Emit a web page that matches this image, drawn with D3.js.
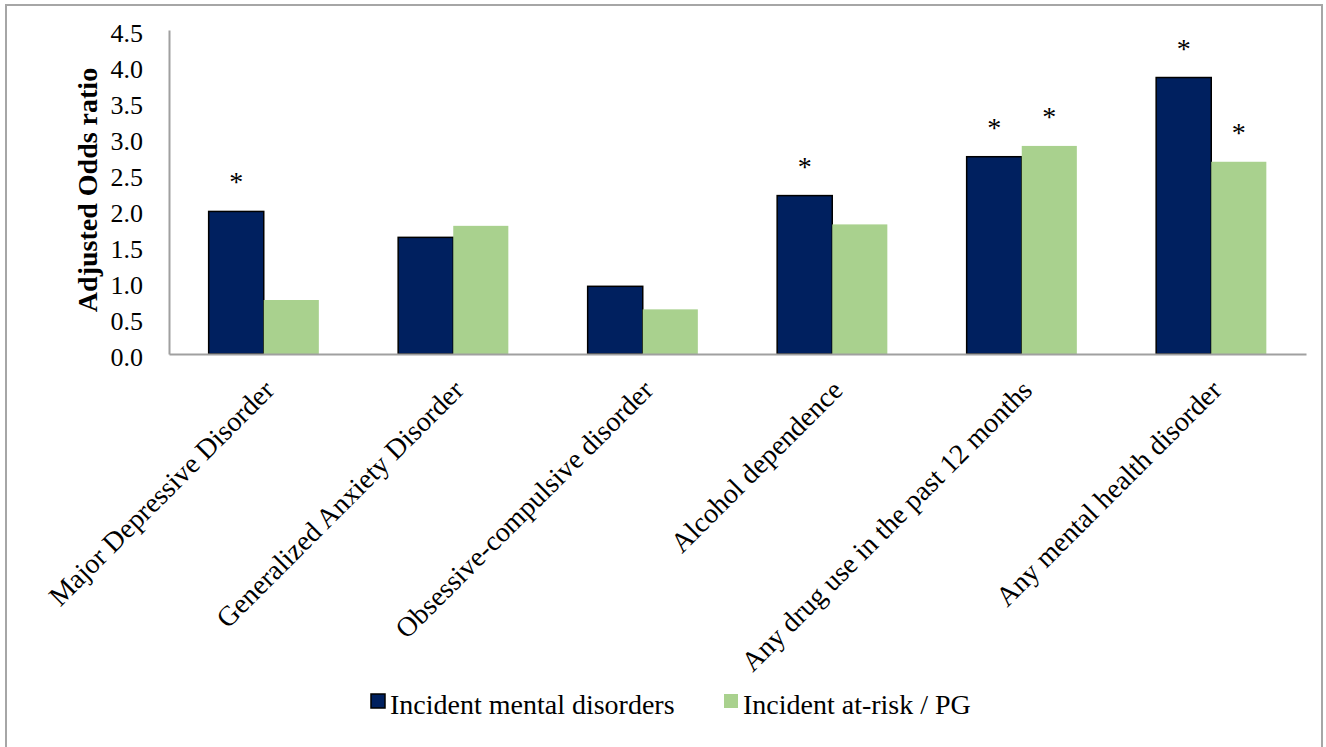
<!DOCTYPE html>
<html>
<head>
<meta charset="utf-8">
<script src="https://cdn.jsdelivr.net/npm/d3@7/dist/d3.min.js"></script>
<style>
  html, body { margin: 0; padding: 0; background: #ffffff; }
  svg { display: block; }
  text { font-family: "Liberation Serif", "Times New Roman", serif; fill: #000; }
</style>
</head>
<body>
<svg id="chart" width="1326" height="747"></svg>
<script>
// Categories and adjusted odds ratios
const categories = [
  "Major Depressive Disorder",
  "Generalized Anxiety Disorder",
  "Obsessive-compulsive disorder",
  "Alcohol dependence",
  "Any drug use in the past 12 months",
  "Any mental health disorder"
];
const seriesNames = ["Incident mental disorders", "Incident at-risk / PG"];
const mentalValues = [1.98, 1.62, 0.94, 2.20, 2.74, 3.84];
const pgValues = [0.75, 1.78, 0.62, 1.80, 2.89, 2.67];
// significance markers (asterisk above the bar)
const mentalSig = [true, false, false, true, true, true];
const pgSig = [false, false, false, false, true, true];
const yTicks = [0, 0.5, 1, 1.5, 2, 2.5, 3, 3.5, 4, 4.5];

const colors = ["#00205f", "#a9d18e"];

const svg = d3.select("#chart");

// outer frame
svg.append("rect")
  .attr("x", 6).attr("y", 5)
  .attr("width", 1316).attr("height", 750)
  .attr("fill", "none")
  .attr("stroke", "#a6a6a6")
  .attr("stroke-width", 2);

const plot = { left: 169, right: 1306, top: 30, bottom: 354 };

const x0 = d3.scaleBand()
  .domain(categories)
  .range([plot.left, plot.right])
  .paddingInner(0)
  .paddingOuter(0);

const x1 = d3.scaleBand()
  .domain(seriesNames)
  .range([0, x0.bandwidth()])
  .paddingInner(0)
  .paddingOuter(0.72);

const y = d3.scaleLinear()
  .domain([0, 4.5])
  .range([plot.bottom, plot.top]);

const rows = categories.map((c, i) => ({
  cat: c,
  vals: [
    { s: seriesNames[0], v: mentalValues[i], sig: mentalSig[i], k: 0 },
    { s: seriesNames[1], v: pgValues[i], sig: pgSig[i], k: 1 }
  ]
}));

// bars
const groups = svg.append("g").selectAll("g")
  .data(rows)
  .join("g")
  .attr("transform", d => `translate(${x0(d.cat)},0)`);

groups.selectAll("rect")
  .data(d => d.vals)
  .join("rect")
  .attr("x", d => x1(d.s))
  .attr("y", d => y(d.v))
  .attr("width", x1.bandwidth())
  .attr("height", d => y(0) - y(d.v))
  .attr("fill", d => colors[d.k])
  .attr("stroke", d => d.k === 0 ? "#000" : "none")
  .attr("stroke-width", 1.5);

// significance asterisks
groups.selectAll("text.sig")
  .data(d => d.vals.filter(v => v.sig))
  .join("text")
  .attr("class", "sig")
  .attr("x", d => x1(d.s) + x1.bandwidth() / 2)
  .attr("y", d => y(d.v) - 20)
  .attr("text-anchor", "middle")
  .attr("font-size", 28)
  .attr("fill", "#222")
  .text("*");

// y axis
const yAxis = d3.axisLeft(y)
  .tickValues(yTicks)
  .tickFormat(d3.format(".1f"))
  .tickSize(0)
  .tickPadding(26);

const gy = svg.append("g")
  .attr("transform", `translate(${plot.left},0)`)
  .call(yAxis);
gy.attr("font-family", null);
gy.select(".domain").attr("stroke", "#a0a0a0").attr("stroke-width", 2);
gy.selectAll(".tick text")
  .attr("font-size", 26)
  .attr("dy", "0.45em");

// x axis
const xAxis = d3.axisBottom(x0).tickSize(0).tickPadding(0);
const gx = svg.append("g")
  .attr("transform", `translate(0,${plot.bottom})`)
  .call(xAxis);
gx.attr("font-family", null);
gx.select(".domain").attr("stroke", "#a0a0a0").attr("stroke-width", 2);
gx.selectAll(".tick text")
  .attr("font-size", 28)
  .attr("text-anchor", "end")
  .attr("dy", null)
  .attr("y", null)
  .attr("transform", "translate(12,38) rotate(-45)");

// y axis title
svg.append("text")
  .attr("transform", `translate(97,190) rotate(-90)`)
  .attr("text-anchor", "middle")
  .attr("font-size", 28)
  .attr("font-weight", "bold")
  .text("Adjusted Odds ratio");

// legend
const legendItems = [
  { name: seriesNames[0], color: colors[0], x: 370, stroke: "#000" },
  { name: seriesNames[1], color: colors[1], x: 723, stroke: "none" }
];
const lg = svg.append("g").selectAll("g")
  .data(legendItems)
  .join("g")
  .attr("transform", d => `translate(${d.x},0)`);
lg.append("rect")
  .attr("x", 1).attr("y", 694)
  .attr("width", 14).attr("height", 14)
  .attr("fill", d => d.color)
  .attr("stroke", d => d.stroke)
  .attr("stroke-width", 1.5);
lg.append("text")
  .attr("x", 20).attr("y", 714)
  .attr("font-size", 28)
  .text(d => d.name);
</script>
</body>
</html>
